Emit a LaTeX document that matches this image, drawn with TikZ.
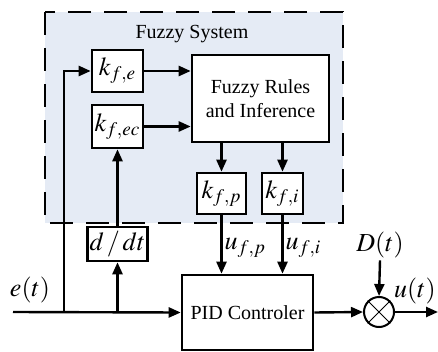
\documentclass[tikz,border=0pt]{standalone}
\usepackage{mathptmx}
\usepackage[no-math]{fontspec}
\setmainfont{Liberation Serif}
\usetikzlibrary{arrows.meta}
\definecolor{fuzzyfill}{RGB}{229,235,245}
\begin{document}
\begin{tikzpicture}[x=0.5pt,y=-0.5pt,>={Triangle[length=6pt,width=5pt]},
  every node/.style={font=\normalsize},
  blk/.style={draw,line width=1.3pt,fill=white,inner sep=0pt},
  lbl/.style={font=\fontsize{13}{15}\selectfont,inner sep=1pt},
  link/.style={line width=1.2pt}]
  \useasboundingbox (0,0) rectangle (438,352);
  % fuzzy system frame
  \draw[line width=1.4pt,dash pattern=on 11.5pt off 6.5pt,fill=fuzzyfill] (45,12) rectangle (343,223);
  \node (title) at (192,34) {Fuzzy System};
  \node[blk,lbl,minimum width=25.5pt,minimum height=21pt] (kfe) at (117.5,71) {$k_{f,e}$};
  \node[blk,lbl,minimum width=25.5pt,minimum height=21.5pt] (kfec) at (117.5,126.5) {$k_{f,ec}$};
  \node[blk,minimum width=68.5pt,minimum height=43.5pt,align=center] (rules) at (260.5,98.5) {Fuzzy Rules\\and Inference};
  \node[blk,lbl,minimum width=24.5pt,minimum height=20.5pt] (kfp) at (221.5,193.5) {$k_{f,p}$};
  \node[blk,lbl,minimum width=20.5pt,minimum height=20.5pt] (kfi) at (282.5,193.5) {$k_{f,i}$};
  \node[blk,lbl,minimum width=29.5pt,minimum height=17pt] (ddt) at (117.5,244) {$d\,/\,dt$};
  \node[blk,minimum width=65.5pt,minimum height=37.5pt] (pid) at (247.5,312.5) {PID Controler};
  \node[draw,circle,line width=1pt,minimum size=15pt,inner sep=0pt] (sum) at (379,312) {};
  \draw[line width=0.5pt] (sum.north west) -- (sum.south east) (sum.north east) -- (sum.south west);
  % signals
  \coordinate (in) at (13,312);
  \coordinate (b1) at (64,312);
  \coordinate (b2) at (117.5,312);
  \coordinate (out) at (438,312);
  \node[lbl] (elbl) at (30,290) {$e(t)$};
  \node[lbl] (dlbl) at (380,245) {$D(t)$};
  \node[lbl] (ulbl) at (415,291) {$u(t)$};
  \draw[link,->] (in) -- (pid.west);
  \draw[link,->] (b1) -- (b1 |- kfe.west) -- (kfe.west);
  \draw[link,->] (b2) -- (ddt.south);
  \draw[link,->] (ddt.north) -- (kfec.south);
  \draw[link,->] (kfe.east) -- (rules.west |- kfe.east);
  \draw[link,->] (kfec.east) -- (rules.west |- kfec.east);
  \draw[link,->] (rules.south -| kfp.north) -- (kfp.north);
  \draw[link,->] (rules.south -| kfi.north) -- (kfi.north);
  \draw[link,->] (kfp.south) -- node[lbl,right,pos=0.55] {$u_{f,p}$} (pid.north -| kfp.south);
  \draw[link,->] (kfi.south) -- node[lbl,right,pos=0.55] {$u_{f,i}$} (pid.north -| kfi.south);
  \draw[link,->] (pid.east) -- (sum.west);
  \draw[link,->] (dlbl.south) -- (sum.north);
  \draw[link,->] (sum.east) -- (out);
\end{tikzpicture}
\end{document}
